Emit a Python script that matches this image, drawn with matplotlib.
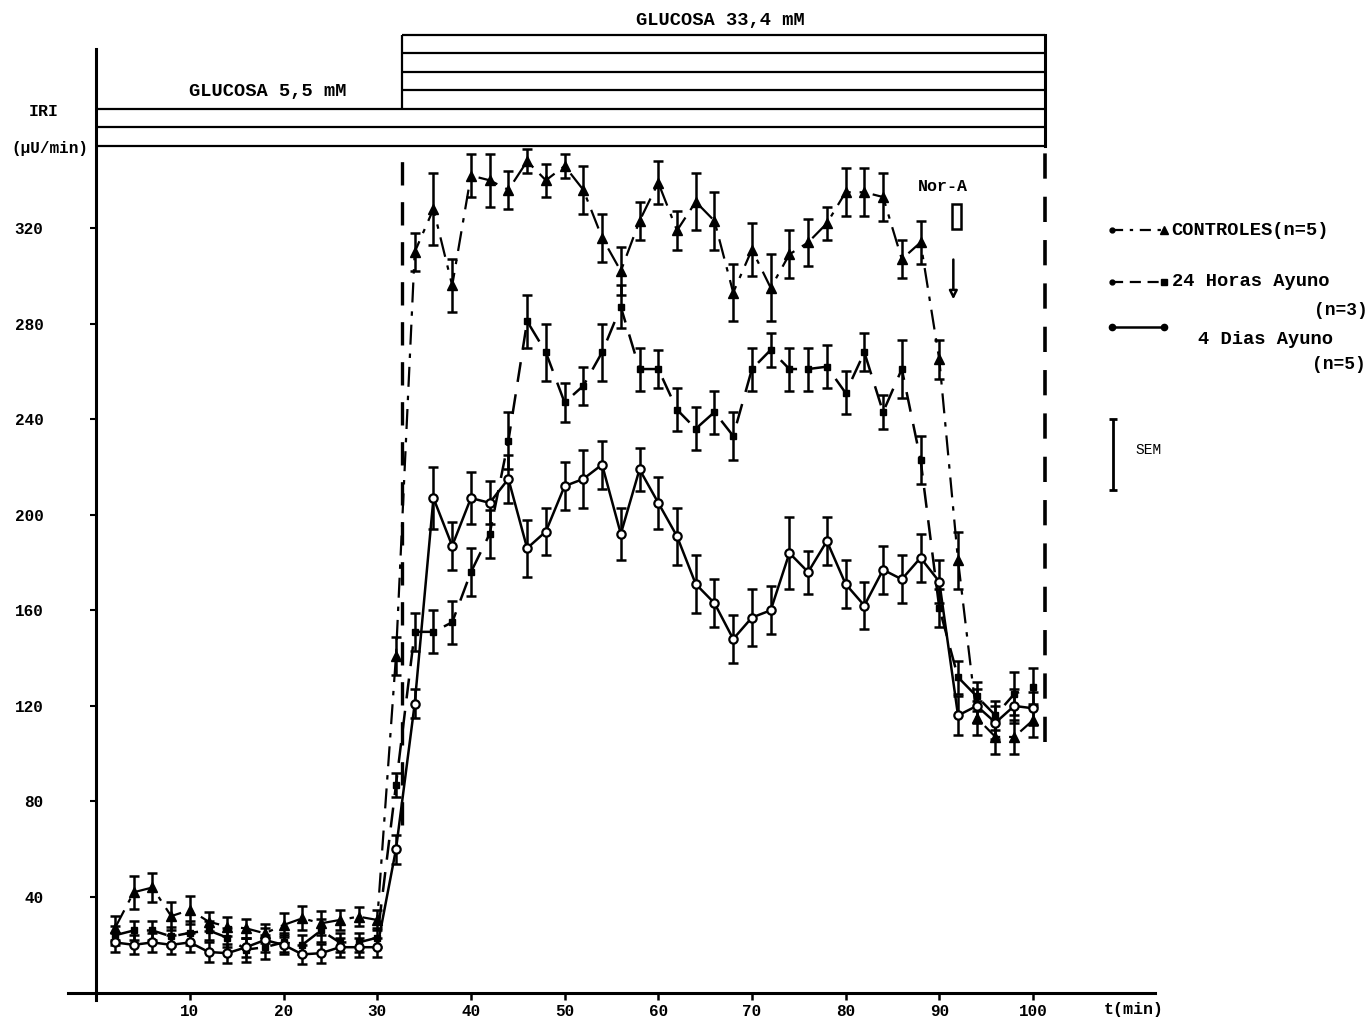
import matplotlib
matplotlib.use("Agg")
import matplotlib.pyplot as plt
from matplotlib.patches import Rectangle

plt.rcParams['font.family'] = ['Liberation Mono', 'DejaVu Sans']
plt.rcParams['font.weight'] = 'bold'

# ---------------- data ----------------
time_min = [2, 4, 6, 8, 10, 12, 14, 16, 18, 20, 22, 24, 26, 28, 30,
            32, 34, 36, 38, 40, 42, 44, 46, 48, 50, 52, 54, 56, 58, 60,
            62, 64, 66, 68, 70, 72, 74, 76, 78, 80, 82, 84, 86, 88, 90,
            92, 94, 96, 98, 100]

controles = [27, 42, 44, 32, 34.6, 29.7, 27.6, 26.9, 24.8, 28.3, 31.1, 29, 30.4, 31.8, 30.4,
             141, 310, 328, 296, 342, 340, 336, 348, 340, 346, 336, 316, 302, 323, 339,
             319, 331, 323, 293, 311, 295, 309, 314, 322, 335, 335, 333, 307, 314, 265,
             181, 115, 107, 107, 114]
controles_sem = [5, 7, 6, 6, 6, 4, 4, 4, 4, 5, 5, 5, 4, 4, 4,
                 8, 8, 15, 11, 9, 11, 8, 5, 7, 5, 10, 10, 10, 8, 9,
                 8, 12, 12, 12, 11, 14, 10, 10, 7, 10, 10, 10, 8, 9, 8,
                 12, 7, 7, 7, 7]

ayuno_24h = [24, 26, 26, 23.5, 25, 26, 23, 18, 19, 21, 20, 26, 21, 21, 23,
             87, 151, 151, 155, 176, 192, 231, 281, 268, 247, 254, 268, 287, 261, 261,
             244, 236, 243, 233, 261, 269, 261, 261, 262, 251, 268, 243, 261, 223, 161,
             132, 124, 116, 125, 128]
ayuno_24h_sem = [4, 4, 4, 4, 5, 4, 4, 5, 5, 4, 4, 5, 4, 4, 4,
                 5, 8, 9, 9, 10, 10, 12, 11, 12, 8, 8, 12, 9, 9, 8,
                 9, 9, 9, 10, 9, 7, 9, 9, 9, 9, 8, 7, 12, 10, 8,
                 7, 6, 6, 9, 8]

ayuno_4d = [21, 20, 21, 20, 21, 17, 16.5, 19, 22, 20, 16, 16.5, 19, 19, 19,
            60, 121, 207, 187, 207, 205, 215, 186, 193, 212, 215, 221, 192, 219, 205,
            191, 171, 163, 148, 157, 160, 184, 176, 189, 171, 162, 177, 173, 182, 172,
            116, 120, 113, 120, 119]
ayuno_4d_sem = [4, 4, 4, 4, 4, 4, 4, 4, 5, 4, 4, 4, 4, 4, 4,
                6, 6, 13, 10, 11, 9, 10, 12, 10, 10, 12, 10, 11, 9, 11,
                12, 12, 10, 10, 12, 10, 15, 9, 10, 10, 10, 10, 10, 10, 9,
                8, 7, 7, 7, 7]

x_ticks = [10, 20, 30, 40, 50, 60, 70, 80, 90, 100]
y_ticks = [40, 80, 120, 160, 200, 240, 280, 320]

# ---------------- figure ----------------
fig = plt.figure(figsize=(13.71, 10.18), dpi=100)
ax = fig.add_axes([0.0497, 0.02495, 0.9497, 0.9669])
ax.set_xlim(-3, 136)
ax.set_ylim(0, 412)

for s in ['top', 'right']:
    ax.spines[s].set_visible(False)
ax.spines['left'].set_position(('data', 0))
ax.spines['left'].set_bounds(-3, 395)
ax.spines['bottom'].set_bounds(-3, 113)
ax.spines['left'].set_linewidth(2.2)
ax.spines['bottom'].set_linewidth(2.2)

ax.set_xticks(x_ticks)
ax.set_xticklabels([str(v) for v in x_ticks], fontsize=11.5, fontweight='bold')
ax.set_yticks(y_ticks)
ax.set_yticklabels([str(v) for v in y_ticks], fontsize=11.5, fontweight='bold')
ax.tick_params(axis='x', direction='out', length=5, width=1.8, pad=3)
ax.tick_params(axis='y', direction='out', length=4, width=1.5, pad=34)

ebkw = dict(fmt='none', ecolor='black', elinewidth=1.8, capsize=3.5, capthick=1.8, zorder=3)

# controles: dash-dot, triangles
ax.errorbar(time_min, controles, yerr=controles_sem, **ebkw)
ax.plot(time_min, controles, color='black', lw=1.6, linestyle=(0, (9, 4, 2, 4)),
        marker='^', ms=7, mfc='black', mec='black', zorder=4)

# 24 horas: dashed, small squares
ax.errorbar(time_min, ayuno_24h, yerr=ayuno_24h_sem, **ebkw)
ax.plot(time_min, ayuno_24h, color='black', lw=1.8, linestyle=(0, (8, 5)),
        marker='s', ms=4, mfc='black', mec='black', zorder=4)

# 4 dias: solid, circles
ax.errorbar(time_min, ayuno_4d, yerr=ayuno_4d_sem, **ebkw)
ax.plot(time_min, ayuno_4d, color='black', lw=1.8, linestyle='-',
        marker='o', ms=6, mfc='white', mec='black', mew=1.6, zorder=5)

# stimulus period vertical dashed lines
ax.plot([32.6, 32.6], [70, 354.3], color='black', lw=2.4, linestyle=(0, (7, 5)), zorder=2)
ax.plot([101.3, 101.3], [105, 354.3], color='black', lw=2.6, linestyle=(0, (7, 5)), zorder=2)

# glucose boxes
box_kw = dict(color='black', lw=1.6, solid_capstyle='butt', clip_on=False)
for yy in [354.3, 362.3, 369.8]:
    ax.plot([0, 101.3], [yy, yy], **box_kw)
for yy in [377.8, 385.3, 393.3, 400.8]:
    ax.plot([32.6, 101.3], [yy, yy], **box_kw)
ax.plot([32.6, 32.6], [369.8, 400.8], **box_kw)
ax.plot([101.3, 101.3], [354.3, 400.8], color='black', lw=2.2, clip_on=False)

ax.text(18.3, 377, 'GLUCOSA 5,5 mM', ha='center', va='center', fontsize=13.5, fontweight='bold')
ax.text(66.6, 407, 'GLUCOSA 33,4 mM', ha='center', va='center', fontsize=13.5, fontweight='bold')

# y label
ax.text(-5.6, 369, 'IRI', ha='center', va='center', fontsize=12, fontweight='bold')
ax.text(-5.0, 353.5, '(µU/min)', ha='center', va='center', fontsize=11.5, fontweight='bold')
# x label
ax.text(110.8, -7, 't(min)', ha='center', va='center', fontsize=12, fontweight='bold')

# Nor-A marker
ax.text(90.4, 337.5, 'Nor-A', ha='center', va='center', fontsize=12, fontweight='bold')
ax.add_patch(Rectangle((91.4, 319.5), 0.9, 10.5, fill=False, ec='black', lw=1.8))
ax.annotate('', xy=(91.5, 289), xytext=(91.5, 308),
            arrowprops=dict(arrowstyle='-|>', color='black', lw=1.8,
                            mutation_scale=12, fc='white'))

# legend (hand drawn)
ax.plot([108.4, 114], [319.2, 319.2], color='black', lw=1.6, linestyle=(0, (5, 3, 1.5, 3)))
ax.plot([108.4], [319.2], marker='o', ms=3.5, color='black')
ax.plot([114], [319.2], marker='^', ms=6, color='black')
ax.text(114.8, 319.2, 'CONTROLES(n=5)', ha='left', va='center', fontsize=13.5, fontweight='bold')

ax.plot([108.4, 114], [297.5, 297.5], color='black', lw=1.6, linestyle=(0, (5, 3)))
ax.plot([108.4], [297.5], marker='o', ms=3.5, color='black')
ax.plot([114], [297.5], marker='s', ms=4, color='black')
ax.text(114.8, 297.5, '24 Horas Ayuno', ha='left', va='center', fontsize=13.5, fontweight='bold')
ax.text(135.7, 285.7, '(n=3)', ha='right', va='center', fontsize=13, fontweight='bold')

ax.plot([108.4, 114], [278.6, 278.6], color='black', lw=1.8, linestyle='-')
ax.plot([108.4, 114], [278.6, 278.6], linestyle='none', marker='o', ms=4.5, color='black')
ax.text(117.6, 273.2, '4 Dias Ayuno', ha='left', va='center', fontsize=13.5, fontweight='bold')
ax.text(135.5, 262.7, '(n=5)', ha='right', va='center', fontsize=13, fontweight='bold')

ax.errorbar([108.5], [225.3], yerr=[15], fmt='none', ecolor='black', elinewidth=2,
            capsize=3, capthick=2)
ax.text(110.9, 227, 'SEM', ha='left', va='center', fontsize=10.5, fontweight='normal')

fig.savefig('out.png', dpi=100)
